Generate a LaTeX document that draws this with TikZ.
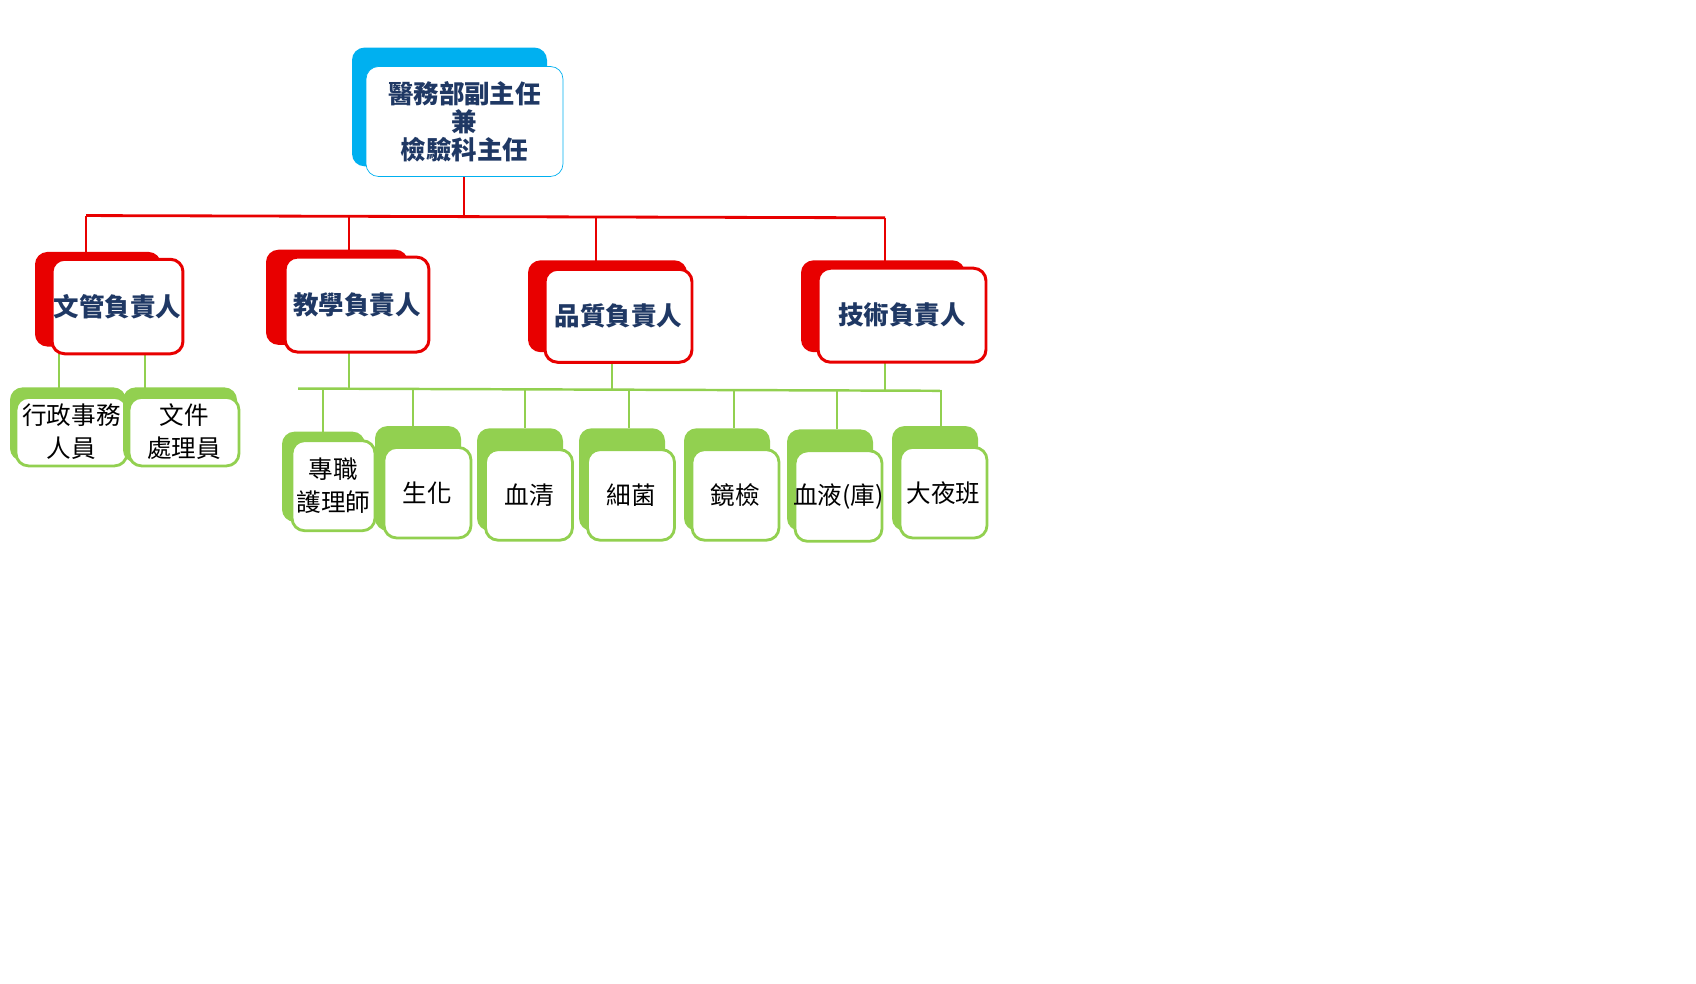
\documentclass[tikz,border=0pt]{standalone}
\usepackage{fontspec}
\newfontfamily\cjk{Noto Sans CJK TC}
\usetikzlibrary{positioning}
\definecolor{skyblue}{HTML}{00B0F0}
\definecolor{chartred}{HTML}{E80000}
\definecolor{leafgreen}{HTML}{92D050}
\definecolor{navy}{HTML}{1F3864}
\tikzset{
    backbox/.style = {rounded corners=0.25cm},
    topbox/.style = {rectangle, rounded corners=0.25cm, draw=skyblue, fill=white, thin},
    headbox/.style = {rectangle, rounded corners=0.25cm, draw=chartred, fill=white, line width=1.7pt},
    staffbox/.style = {rectangle, rounded corners=0.25cm, draw=leafgreen, fill=white, line width=1.6pt},
    headtxt/.style = {font=\cjk\bfseries\fontsize{14.5}{16}\selectfont, text=navy, align=center},
    stafftxt/.style = {font=\cjk\fontsize{14}{18.5}\selectfont, text=black, align=center},
    redline/.style = {chartred, line width=1.6pt},
    greenline/.style = {leafgreen, line width=1.4pt},
}
\begin{document}
\begin{tikzpicture}[x=0.02cm, y=-0.0112cm]
\useasboundingbox (0,0) rectangle (1696,1757);
% connectors
\coordinate (rb) at (464,387);
\coordinate (rb1) at (86,385);
\coordinate (rb2) at (349,386);
\coordinate (rb3) at (596,388);
\coordinate (rb4) at (885,389);
\coordinate (gl1) at (59,632);
\coordinate (gl2) at (145,632);
\coordinate (gb0) at (298,694);
\coordinate (gb2) at (349,695);
\coordinate (gb3) at (612,696);
\coordinate (gb4) at (885,697);
\coordinate (gb9) at (940,698);
\draw[redline] (464,315) -- (rb);
\draw[redline] (rb1) -- (rb4);
\draw[redline] (rb1) -- (rb1 |- 0,460);
\draw[redline] (rb2) -- (rb2 |- 0,455);
\draw[redline] (rb3) -- (rb3 |- 0,470);
\draw[redline] (rb4) -- (rb4 |- 0,470);
\draw[greenline] (gl1) -- (gl1 |- 0,700);
\draw[greenline] (gl2) -- (gl2 |- 0,700);
\draw[greenline] (gb0) -- (gb9);
\draw[greenline] (gb2) -- (gb2 |- 0,629);
\draw[greenline] (gb3) -- (gb3 |- 0,647);
\draw[greenline] (gb4) -- (gb4 |- 0,647);
\foreach \x/\y in {323/771, 413/765, 525/765, 629/765, 734/765, 837/767, 941/765}
    \draw[greenline] (\x,696) -- (\x,\y);
% director
\fill[backbox, skyblue] (352,85) rectangle (547,297);
\node[topbox, minimum width=3.94cm, minimum height=2.2cm] at (464.5,217) (dir) {};
\node[headtxt] at (dir) {醫務部副主任\\兼\\檢驗科主任};
% heads
\fill[backbox, chartred] (35,450) rectangle (161,619);
\node[headbox, minimum width=2.62cm, minimum height=1.89cm] at (117.5,547.5) (doc) {};
\node[headtxt] at (doc) {文管負責人};
\fill[backbox, chartred] (266,446) rectangle (408,616);
\node[headbox, minimum width=2.88cm, minimum height=1.9cm] at (357,544) (edu) {};
\node[headtxt] at (edu) {教學負責人};
\fill[backbox, chartred] (528,465) rectangle (687,629);
\node[headbox, minimum width=2.94cm, minimum height=1.86cm] at (618.5,564) (qual) {};
\node[headtxt] at (qual) {品質負責人};
\fill[backbox, chartred] (801,465) rectangle (965,629);
\node[headbox, minimum width=3.36cm, minimum height=1.88cm] at (902,563) (tech) {};
\node[headtxt] at (tech) {技術負責人};
% staff
\fill[backbox, leafgreen] (10,692) rectangle (126,823);
\node[staffbox, minimum width=2.22cm, minimum height=1.37cm] at (71.5,771) (admin) {};
\node[stafftxt] at (admin) {行政事務\\人員};
\fill[backbox, leafgreen] (123,692) rectangle (237,826);
\node[staffbox, minimum width=2.2cm, minimum height=1.37cm] at (184,771) (files) {};
\node[stafftxt] at (files) {文件\\處理員};
\fill[backbox, leafgreen] (282,771) rectangle (365,932);
\node[staffbox, minimum width=1.66cm, minimum height=1.8cm] at (333.5,867.5) (nurse) {};
\node[stafftxt] at (nurse) {專職\\護理師};
\foreach \n/\bx/\by/\cx/\cy/\t in {chem/375/761/427.5/880/生化, sero/477/765/529/884/血清, micro/579/765/631/884/細菌, scope/684/765/735.5/884/鏡檢, blood/787/767/838.5/886/血液(庫), night/892/761/943.5/880/大夜班}{
    \fill[backbox, leafgreen] (\bx,\by) rectangle (\bx+86,948);
    \node[staffbox, minimum width=1.74cm, minimum height=1.81cm] at (\cx,\cy) (\n) {};
    \node[stafftxt] at (\n) {\t};
}
\end{tikzpicture}
\end{document}
